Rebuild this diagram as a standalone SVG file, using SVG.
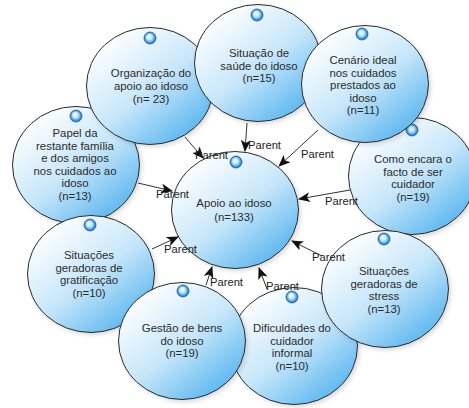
<svg xmlns="http://www.w3.org/2000/svg" width="469" height="408" viewBox="0 0 469 408">
<defs>
<linearGradient id="fill" x1="0.15" y1="0.1" x2="0.88" y2="0.95">
<stop offset="0" stop-color="#ffffff"/>
<stop offset="0.5" stop-color="#c6e6fa"/>
<stop offset="1" stop-color="#4fb1ee"/>
</linearGradient>
<radialGradient id="dot" cx="0.5" cy="0.5" r="0.5" fx="0.4" fy="0.35">
<stop offset="0" stop-color="#ffffff"/>
<stop offset="0.45" stop-color="#c8ebfc"/>
<stop offset="0.8" stop-color="#41a0e8"/>
<stop offset="1" stop-color="#1d5fa8"/>
</radialGradient>
<filter id="sh" x="-20%" y="-20%" width="140%" height="140%">
<feDropShadow dx="2" dy="2" stdDeviation="2" flood-color="#000" flood-opacity="0.15"/>
</filter>
<marker id="arr" viewBox="0 0 12 10" refX="11" refY="5" markerWidth="12" markerHeight="10" markerUnits="userSpaceOnUse" orient="auto">
<path d="M0,0 L12,5 L0,10 L3,5 z" fill="#111"/>
</marker>
</defs>
<style>
.node ellipse{fill:url(#fill);stroke:#2a2a2a;stroke-width:1;filter:url(#sh)}
.node circle{fill:url(#dot);stroke:#2a5f9e;stroke-width:0.8}
.node text{font-family:"Liberation Sans",Arial,sans-serif;font-size:11.4px;fill:#2b2b2b;text-anchor:middle}
.edge line{stroke:#333;stroke-width:1;marker-end:url(#arr)}
.edge text{font-family:"Liberation Sans",Arial,sans-serif;font-size:11.2px;fill:#222}
</style>
<rect width="469" height="408" fill="#ffffff"/>

<g id="papel" class="node">
<ellipse cx="76" cy="165" rx="63.5" ry="58.5"/>
<circle cx="76" cy="116" r="6"/>
<text x="75" y="137">Papel da</text>
<text x="75" y="149.6">restante família</text>
<text x="75" y="162.2">e dos amigos</text>
<text x="75" y="174.8">nos cuidados ao</text>
<text x="75" y="187.4">idoso</text>
<text x="75" y="200">(n=13)</text>
</g>

<g id="gratificacao" class="node">
<ellipse cx="91" cy="274" rx="63.5" ry="58.5"/>
<circle cx="90" cy="225" r="6"/>
<text x="89" y="259">Situações</text>
<text x="89" y="271.6">geradoras de</text>
<text x="89" y="284.2">gratificação</text>
<text x="89" y="296.8">(n=10)</text>
</g>

<g id="organizacao" class="node">
<ellipse cx="150" cy="86" rx="63.5" ry="58.5"/>
<circle cx="150" cy="38" r="6"/>
<text x="151" y="77">Organização do</text>
<text x="151" y="90">apoio ao idoso</text>
<text x="151" y="103">(n= 23)</text>
</g>

<g id="saude" class="node">
<ellipse cx="258" cy="63" rx="63.5" ry="58.5"/>
<circle cx="257" cy="15" r="6"/>
<text x="259" y="57">Situação de</text>
<text x="259" y="69.6">saúde do idoso</text>
<text x="259" y="82.2">(n=15)</text>
</g>

<g id="como" class="node">
<ellipse cx="412" cy="176" rx="63.5" ry="58.5"/>
<circle cx="412" cy="130" r="6"/>
<text x="413" y="163">Como encara o</text>
<text x="413" y="175.6">facto de ser</text>
<text x="413" y="188.2">cuidador</text>
<text x="413" y="200.8">(n=19)</text>
</g>

<g id="cenario" class="node">
<ellipse cx="365" cy="84" rx="63.5" ry="58.5"/>
<circle cx="362" cy="34" r="6"/>
<text x="363" y="64">Cenário ideal</text>
<text x="363" y="76.6">nos cuidados</text>
<text x="363" y="89.2">prestados ao</text>
<text x="363" y="101.8">idoso</text>
<text x="363" y="114.4">(n=11)</text>
</g>

<g id="dificuldades" class="node">
<ellipse cx="294" cy="346" rx="63.5" ry="58.5"/>
<circle cx="292" cy="297" r="6"/>
<text x="292" y="332">Dificuldades do</text>
<text x="292" y="344.6">cuidador</text>
<text x="292" y="357.2">informal</text>
<text x="292" y="369.8">(n=10)</text>
</g>

<g id="stress" class="node">
<ellipse cx="385" cy="289" rx="63.5" ry="58.5"/>
<circle cx="384" cy="239" r="6"/>
<text x="384" y="275">Situações</text>
<text x="384" y="287.6">geradoras de</text>
<text x="384" y="300.2">stress</text>
<text x="384" y="312.8">(n=13)</text>
</g>

<g id="gestao" class="node">
<ellipse cx="182" cy="341" rx="63.5" ry="58.5"/>
<circle cx="183" cy="291" r="6"/>
<text x="182" y="332">Gestão de bens</text>
<text x="182" y="344.6">do idoso</text>
<text x="182" y="357.2">(n=19)</text>
</g>

<g id="apoio" class="node">
<ellipse cx="235" cy="210" rx="63.5" ry="58.5"/>
<circle cx="236" cy="162" r="6"/>
<text x="234" y="207">Apoio ao idoso</text>
<text x="234" y="220.5">(n=133)</text>
</g>

<g id="connectors" class="edge">
<line x1="247" y1="123" x2="245" y2="151"/>
<line x1="185" y1="137" x2="203" y2="158"/>
<line x1="318" y1="130" x2="279" y2="166"/>
<line x1="350" y1="190" x2="299" y2="199"/>
<line x1="322" y1="256" x2="292" y2="241"/>
<line x1="267" y1="289" x2="259" y2="268"/>
<line x1="206" y1="285" x2="212" y2="267"/>
<line x1="152" y1="249" x2="178" y2="237"/>
<line x1="138" y1="183" x2="172" y2="191"/>
<text x="248" y="149">Parent</text>
<text x="195" y="159">Parent</text>
<text x="301" y="158">Parent</text>
<text x="325" y="205">Parent</text>
<text x="312" y="261">Parent</text>
<text x="266" y="290">Parent</text>
<text x="210" y="286">Parent</text>
<text x="164" y="253">Parent</text>
<text x="156" y="198">Parent</text>
</g>
</svg>
